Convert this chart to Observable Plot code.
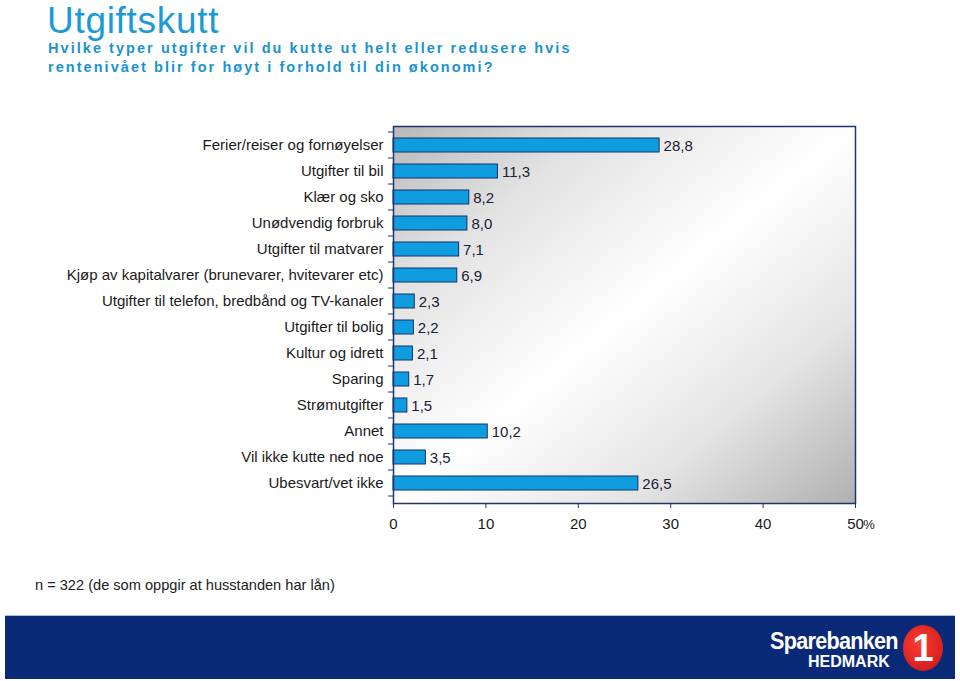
<!DOCTYPE html>
<html><head><meta charset="utf-8">
<script src="https://cdn.jsdelivr.net/npm/d3@7"></script>
<script src="https://cdn.jsdelivr.net/npm/@observablehq/plot@0.6"></script>
<style>
body{margin:0;background:#fff;width:960px;height:681px;position:relative;overflow:hidden;font-family:"Liberation Sans",Arial,sans-serif}
#title{position:absolute;left:47px;top:1px;font-size:37px;line-height:40px;color:#1b9ad6;letter-spacing:0.7px;white-space:nowrap}
#sub{position:absolute;left:48px;top:39px;font-size:14.5px;font-weight:bold;color:#1a93d0;letter-spacing:2.05px;line-height:19px;white-space:nowrap}
#chart{position:absolute;left:0;top:0}
#caption{position:absolute;left:35px;top:577px;font-size:14.6px;color:#222;white-space:nowrap}
#banner{position:absolute;left:5px;top:615px;width:950px;height:63px;background:#0a2a78;border-top:1px solid #9cc6e8}
#logo1{position:absolute;left:765px;top:13px;font-size:24px;line-height:24px;font-weight:bold;color:#fff;letter-spacing:-0.8px;transform:scaleX(0.9);transform-origin:left;white-space:nowrap}
#logo2{position:absolute;left:803px;top:38px;font-size:16px;line-height:16px;font-weight:bold;color:#fff;white-space:nowrap}
#logo3{position:absolute;left:898px;top:9px;width:40px;height:46px;border-radius:50%;background:radial-gradient(circle at 40% 40%,#ff3b2f,#c4141b);color:#fff;font-weight:bold;font-size:38px;line-height:46px;text-align:center}
</style>
</head><body>
<div id="title">Utgiftskutt</div>
<div id="sub">Hvilke typer utgifter vil du kutte ut helt eller redusere hvis<br>rentenivået blir for høyt i forhold til din økonomi?</div>
<div id="chart"></div>
<div id="caption">n = 322 (de som oppgir at husstanden har lån)</div>
<div id="banner"><div id="logo1">Sparebanken</div><div id="logo2">HEDMARK</div><div id="logo3">1</div></div>
<script>
const categories = [
  "Ferier/reiser og fornøyelser",
  "Utgifter til bil",
  "Klær og sko",
  "Unødvendig forbruk",
  "Utgifter til matvarer",
  "Kjøp av kapitalvarer (brunevarer, hvitevarer etc)",
  "Utgifter til telefon, bredbånd og TV-kanaler",
  "Utgifter til bolig",
  "Kultur og idrett",
  "Sparing",
  "Strømutgifter",
  "Annet",
  "Vil ikke kutte ned noe",
  "Ubesvart/vet ikke"
];
const values = [28.8, 11.3, 8.2, 8.0, 7.1, 6.9, 2.3, 2.2, 2.1, 1.7, 1.5, 10.2, 3.5, 26.5];
const xTicks = [0, 10, 20, 30, 40, 50];
const unitLabel = "%";

const data = categories.map((c, i) => ({category: c, value: values[i]}));
const fmt = v => v.toFixed(1).replace(".", ",");

const plot = Plot.plot({
  width: 960, height: 560,
  marginLeft: 393, marginRight: 105, marginTop: 126, marginBottom: 57,
  style: {fontFamily: "'Liberation Sans', Arial, sans-serif", fontSize: "15px", color: "#1a1a1a", background: "transparent", overflow: "visible"},
  x: {domain: [0, 50], label: null},
  y: {domain: categories, padding: 0.46, label: null},
  marks: [
    Plot.frame({fill: "url(#bgGrad)", stroke: "none"}),
    Plot.barX(data, {x: "value", y: "category", fill: "#109ddf", stroke: "#12306f", strokeWidth: 1}),
    Plot.text(data, {x: "value", y: "category", text: d => fmt(d.value), textAnchor: "start", dx: 4, dy: 1, fill: "#1a2035", fontSize: 15}),
    Plot.frame({stroke: "#1f3470", strokeWidth: 1.5}),
    Plot.axisX({ticks: xTicks, tickSize: 5, tickPadding: 10, stroke: "#1f3470", fill: "#1a1a1a", fontSize: 15, label: null}),
    Plot.axisY({tickSize: 0, tickPadding: 10, fill: "#1a1a1a", fontSize: 15, label: null})
  ]
});
document.getElementById("chart").appendChild(plot);

const svg = d3.select(plot);
const defs = svg.insert("defs", ":first-child");
const g = defs.append("linearGradient").attr("id", "bgGrad")
  .attr("x1", "0").attr("y1", "0").attr("x2", "1").attr("y2", "1");
g.append("stop").attr("offset", "0").attr("stop-color", "#b8b8b8");
g.append("stop").attr("offset", "0.22").attr("stop-color", "#e2e2e2");
g.append("stop").attr("offset", "0.5").attr("stop-color", "#ffffff");
g.append("stop").attr("offset", "0.75").attr("stop-color", "#e4e4e4");
g.append("stop").attr("offset", "1").attr("stop-color", "#b0b0b0");

const ys = plot.scale("y");
const xs = plot.scale("x");
const gap = (ys.step - ys.bandwidth) / 2;
const bounds = categories.map(c => ys.apply(c) - gap);
bounds.push(ys.apply(categories[categories.length - 1]) + ys.bandwidth + gap);
const x0 = xs.apply(0);
svg.append("g").selectAll("line").data(bounds).join("line")
  .attr("x1", x0 - 5).attr("x2", x0).attr("y1", d => d).attr("y2", d => d)
  .attr("stroke", "#1f3470").attr("stroke-width", 1);
svg.append("text").attr("x", xs.apply(50) + 14).attr("y", 529)
  .attr("font-size", 13).attr("fill", "#1a1a1a").text(unitLabel);
</script>
</body></html>
